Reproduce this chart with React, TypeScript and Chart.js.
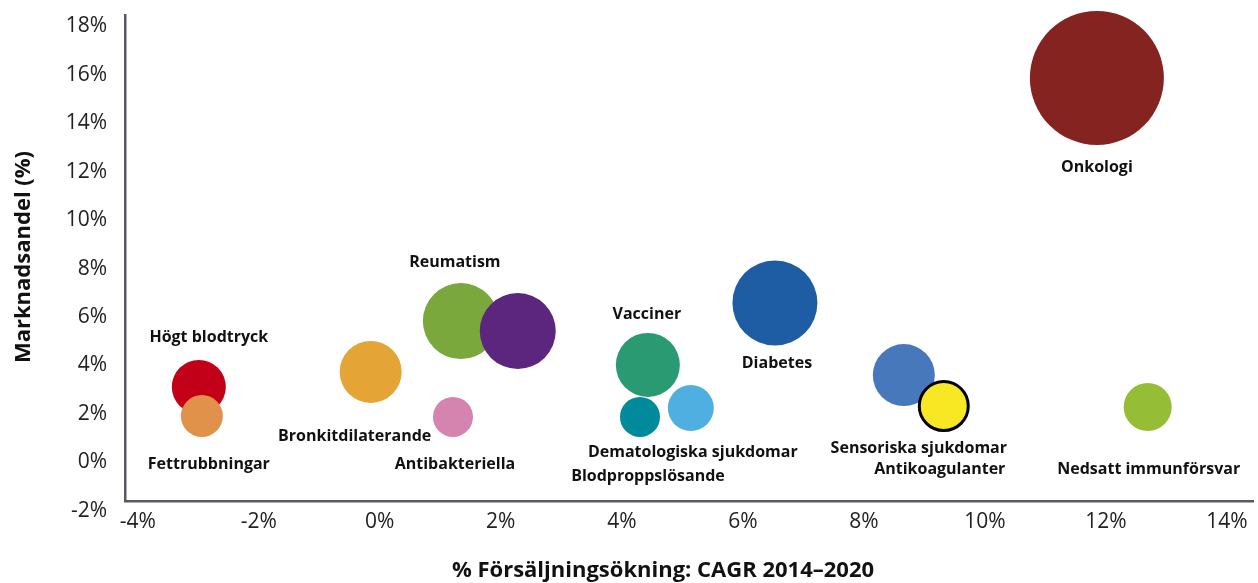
import React, { useEffect, useRef } from "react";
import { Chart, registerables } from "chart.js";

Chart.register(...registerables);

// Categories (therapy areas)
const categories = [
  "Högt blodtryck",
  "Fettrubbningar",
  "Bronkitdilaterande",
  "Reumatism",
  "",
  "Antibakteriella",
  "Vacciner",
  "Blodproppslösande",
  "Dematologiska sjukdomar",
  "Diabetes",
  "Onkologi",
  "Sensoriska sjukdomar",
  "Antikoagulanter",
  "Nedsatt immunförsvar",
];
// % sales growth CAGR 2014–2020
const growth = [-2.99, -2.94, -0.15, 1.34, 2.28, 1.21, 4.43, 4.3, 5.14, 6.53, 11.85, 8.66, 9.32, 12.69];
// Market share (%)
const share = [3.11, 1.91, 3.73, 5.83, 5.42, 1.87, 4.02, 1.87, 2.24, 6.58, 15.87, 3.6, 2.32, 2.28];
// Bubble size (market size, drawn as radius)
const sizes = [27, 21, 31, 38, 38, 20, 32, 20, 23, 42.5, 67, 31, 24.5, 24];
const colors = [
  "#C20018", "#E0924A", "#E5A536", "#7BA83C", "#5C267E", "#D584B0", "#2A9A72",
  "#008A9B", "#4FAFE0", "#1E5CA3", "#84231F", "#4878BC", "#F8E823", "#95BD36",
];
const xTicks = [-4, -2, 0, 2, 4, 6, 8, 10, 12, 14];
const yTicks = [-2, 0, 2, 4, 6, 8, 10, 12, 14, 16, 18];

// label placement offsets (pixels, relative to bubble centre)
const labelOffsets: [number, number][] = [
  [10, -50], [7, 48], [-16, 65], [-6, -59], [0, 0], [2, 47], [-1, -50],
  [8, 59], [2, 44], [2, 61], [0, 89], [15, 73], [-4, 63], [1, 62],
];

const FONT = "'Open Sans', 'Noto Sans', sans-serif";

export default function App() {
  const ref = useRef<HTMLCanvasElement | null>(null);
  useEffect(() => {
    document.body.style.margin = "0";
    const canvas = ref.current!;
    const labelPlugin = {
      id: "bubbleLabels",
      afterDatasetsDraw(chart: any) {
        const ctx = chart.ctx;
        const meta = chart.getDatasetMeta(0);
        ctx.save();
        ctx.font = `bold 16px ${FONT}`;
        ctx.fillStyle = "#111";
        ctx.textAlign = "center";
        ctx.textBaseline = "middle";
        meta.data.forEach((el: any, i: number) => {
          const t = categories[i];
          if (!t) return;
          const [dx, dy] = labelOffsets[i];
          ctx.fillText(t, el.x + dx, el.y + dy);
        });
        ctx.restore();
      },
      afterDraw(chart: any) {
        const ctx = chart.ctx;
        ctx.save();
        ctx.font = `bold 22px ${FONT}`;
        ctx.fillStyle = "#111";
        ctx.textAlign = "center";
        ctx.textBaseline = "middle";
        ctx.fillText("% Försäljningsökning: CAGR 2014–2020", 663, 571);
        ctx.translate(24, 257);
        ctx.rotate(-Math.PI / 2);
        ctx.fillText("Marknadsandel (%)", 0, 0);
        ctx.restore();
      },
    };
    const chart = new Chart(canvas, {
      type: "bubble",
      data: {
        datasets: [
          {
            data: growth.map((x, i) => ({ x, y: share[i], r: sizes[i] })),
            backgroundColor: colors,
            borderColor: colors.map((c, i) => (i === 12 ? "#000" : c)),
            borderWidth: colors.map((_, i) => (i === 12 ? 3 : 0)),
            clip: false,
          } as any,
        ],
      },
      options: {
        animation: false,
        responsive: false,
        maintainAspectRatio: false,
        layout: { autoPadding: false, padding: { left: 0, right: 5, top: 15, bottom: 0 } },
        plugins: { legend: { display: false }, tooltip: { enabled: false } },
        scales: {
          x: {
            type: "linear",
            min: -4.21,
            max: 14.43,
            grid: { display: false, drawTicks: false },
            border: { display: true, color: "#575a60", width: 2.5 },
            afterBuildTicks: (s: any) => {
              s.ticks = xTicks.map((v) => ({ value: v }));
            },
            afterFit: (s: any) => {
              s.height = 82;
              s.paddingLeft = 0;
              s.paddingRight = 0;
            },
            ticks: {
              padding: 8,
              color: "#222",
              font: { family: FONT, size: 21 },
              maxRotation: 0,
              autoSkip: false,
              callback: (v: any) => `${v}%`,
            },
          },
          y: {
            type: "linear",
            min: -1.6,
            max: 18.47,
            grid: { display: false, drawTicks: false },
            border: { display: true, color: "#575a60", width: 2.5 },
            afterBuildTicks: (s: any) => {
              s.ticks = yTicks.map((v) => ({ value: v }));
            },
            afterFit: (s: any) => {
              s.width = 125;
              s.paddingTop = 0;
              s.paddingBottom = 0;
            },
            ticks: {
              padding: 18,
              color: "#222",
              font: { family: FONT, size: 21 },
              autoSkip: false,
              callback: (v: any) => `${v}%`,
            },
          },
        },
      } as any,
      plugins: [labelPlugin],
    });
    return () => chart.destroy();
  }, []);
  return (
    <div style={{ width: 1258, height: 583, position: "relative", background: "#fff" }}>
      <canvas ref={ref} width={1258} height={583} style={{ display: "block" }} />
    </div>
  );
}
